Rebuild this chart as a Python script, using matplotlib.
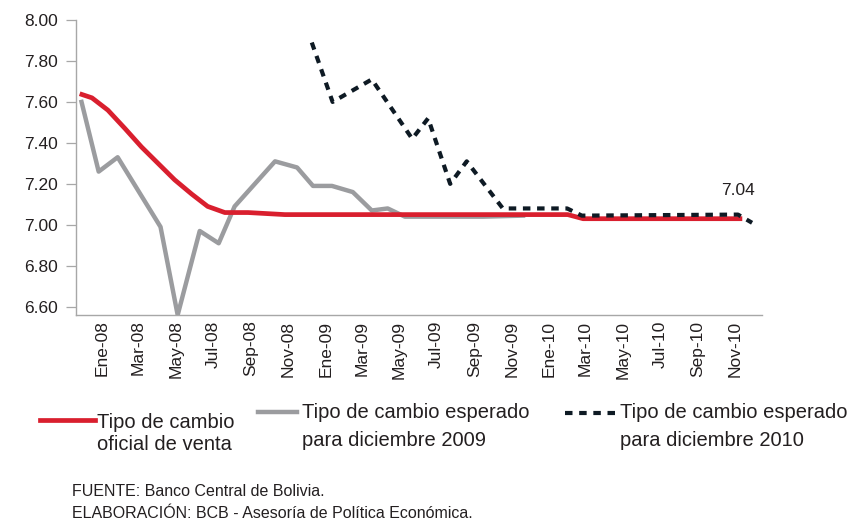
import pandas as pd
import matplotlib
import matplotlib.pyplot as plt
from matplotlib.lines import Line2D

matplotlib.use('Agg')

plt.rcParams["font.family"] = ["Liberation Sans", "DejaVu Sans"]

# Tipo de cambio oficial de venta
oficial_fechas = ['2007-11-26', '2007-12-16', '2008-01-11', '2008-02-08', '2008-03-06',
                  '2008-04-02', '2008-04-29', '2008-05-27', '2008-06-22', '2008-07-20',
                  '2008-08-27', '2008-10-26', '2010-01-31', '2010-02-25', '2010-11-12']
oficial = [7.64, 7.62, 7.56, 7.47, 7.38, 7.30, 7.22, 7.15, 7.09, 7.06,
           7.06, 7.05, 7.05, 7.03, 7.03]

# Tipo de cambio esperado para diciembre 2009
esp09_fechas = ['2007-11-29', '2007-12-27', '2008-01-27', '2008-04-06', '2008-05-04',
                '2008-06-09', '2008-07-10', '2008-08-05', '2008-10-10', '2008-11-15',
                '2008-12-11', '2009-01-11', '2009-02-14', '2009-03-17', '2009-04-12',
                '2009-05-10', '2009-07-15', '2009-09-15', '2009-11-19']
esp09 = [7.60, 7.26, 7.33, 6.99, 6.56, 6.97, 6.91, 7.09, 7.31, 7.28,
         7.19, 7.19, 7.16, 7.07, 7.08, 7.04, 7.04, 7.04, 7.045]

# Tipo de cambio esperado para diciembre 2010
esp10_fechas = ['2008-12-09', '2009-01-12', '2009-03-17', '2009-05-22', '2009-06-17',
                '2009-07-23', '2009-08-19', '2009-10-17', '2010-01-30', '2010-02-23',
                '2010-11-05', '2010-11-28']
esp10 = [7.89, 7.60, 7.71, 7.42, 7.52, 7.20, 7.31, 7.08, 7.08, 7.045, 7.05, 7.01]

meses = ['Ene-08', 'Mar-08', 'May-08', 'Jul-08', 'Sep-08', 'Nov-08',
         'Ene-09', 'Mar-09', 'May-09', 'Jul-09', 'Sep-09', 'Nov-09',
         'Ene-10', 'Mar-10', 'May-10', 'Jul-10', 'Sep-10', 'Nov-10']
yticks = [6.60, 6.80, 7.00, 7.20, 7.40, 7.60, 7.80, 8.00]

rojo = '#d91f2e'
gris = '#9b9c9f'
negro = '#0e1a24'
texto = '#231f20'

fig = plt.figure(figsize=(8.57, 5.22), dpi=100)
ax = fig.add_axes([0.0887, 0.3966, 0.8003, 0.5651])

ax.plot(pd.to_datetime(esp09_fechas), esp09, color=gris, lw=3.2)
ax.plot(pd.to_datetime(oficial_fechas), oficial, color=rojo, lw=3.4, solid_capstyle='butt')
ax.plot(pd.to_datetime(esp10_fechas), esp10, color=negro, lw=3.0,
        linestyle=(0, (1.8, 1.6)), dash_capstyle='butt')

ax.annotate('7.04', xy=(pd.Timestamp(esp10_fechas[-2]), esp10[-2]), xytext=(0, 12),
            textcoords='offset points', ha='center', va='bottom', fontsize=12.5, color=texto)

ax.set_xlim(pd.Timestamp('2007-11-20'), pd.Timestamp('2010-12-14'))
ax.set_ylim(6.56, 8.0)

ticks_x = pd.date_range('2008-01-01', '2010-11-01', freq='2MS')
ax.set_xticks(ticks_x)
ax.set_xticklabels(meses, rotation=90, fontsize=12.5, color=texto)
ax.tick_params(axis='x', length=0, pad=4)

ax.set_yticks(yticks)
ax.set_yticklabels([f"{v:.2f}" for v in yticks], fontsize=12.5, color=texto)
ax.tick_params(axis='y', length=7, color='#a7a7a7', width=0.9, pad=6)

for s in ['top', 'right']:
    ax.spines[s].set_visible(False)
for s in ['left', 'bottom']:
    ax.spines[s].set_color('#a7a7a7')
    ax.spines[s].set_linewidth(1.0)

# leyenda manual (coordenadas en pixeles de la figura)
W, H = 857, 522
def fx(x):
    return x / W
def fy(y):
    return 1 - y / H

def entrada(x0, x1, y_linea, x_txt, y1, y2, l1, l2, **estilo):
    fig.add_artist(Line2D([fx(x0), fx(x1)], [fy(y_linea), fy(y_linea)], **estilo))
    fig.text(fx(x_txt), fy(y1), l1, fontsize=14.5, color=texto, va='center', ha='left')
    fig.text(fx(x_txt), fy(y2), l2, fontsize=14.5, color=texto, va='center', ha='left')

entrada(40, 95, 420, 97, 422, 445, 'Tipo de cambio', 'oficial de venta',
        color=rojo, lw=3.4)
entrada(258, 297, 412, 302, 413, 440, 'Tipo de cambio esperado', 'para diciembre 2009',
        color=gris, lw=3.2)
entrada(565, 618, 413, 620, 413, 440, 'Tipo de cambio esperado', 'para diciembre 2010',
        color=negro, lw=3.0, linestyle=(0, (1.8, 1.6)), dash_capstyle='butt')

fig.text(fx(72), fy(492), 'FUENTE: Banco Central de Bolivia.', fontsize=11.5,
         color=texto, va='center', ha='left')
fig.text(fx(72), fy(514), 'ELABORACIÓN: BCB - Asesoría de Política Económica.', fontsize=11.5,
         color=texto, va='center', ha='left')

fig.savefig('out.png', dpi=100)
